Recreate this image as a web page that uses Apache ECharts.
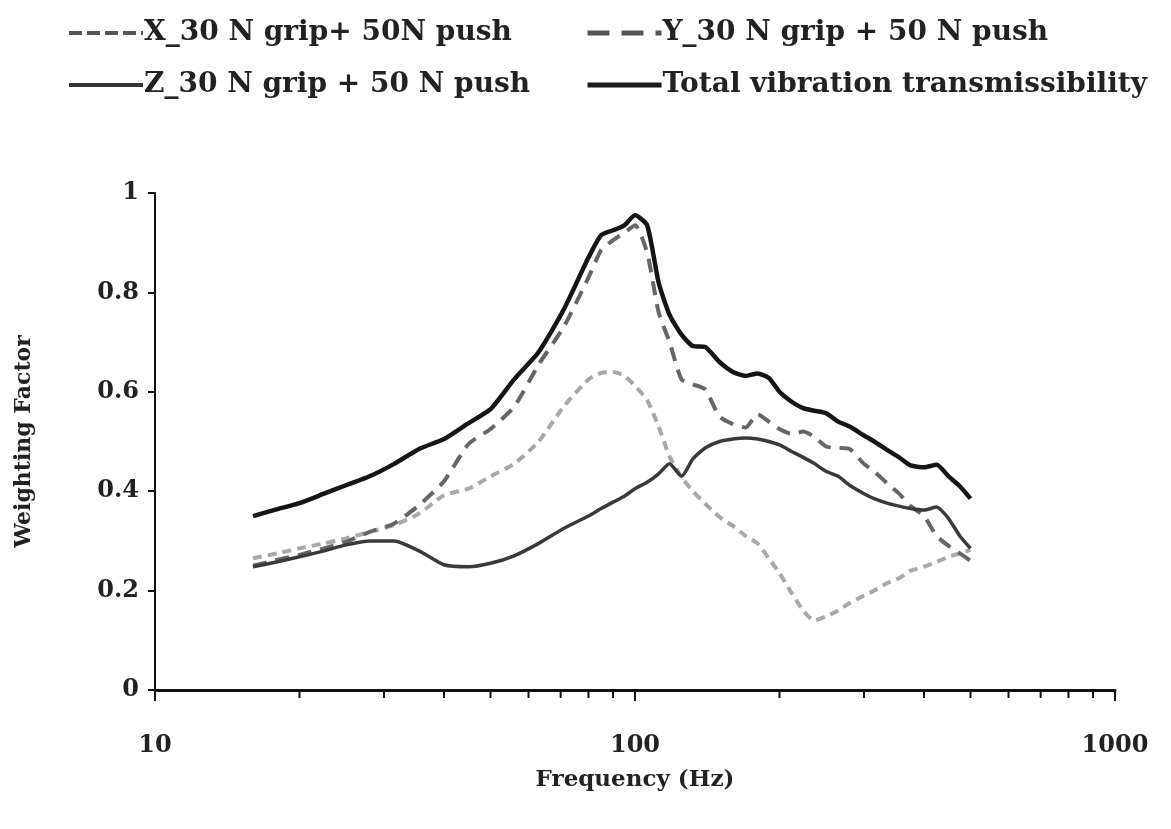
<!DOCTYPE html>
<html>
<head>
<meta charset="utf-8">
<script src="https://cdn.jsdelivr.net/npm/echarts@6/dist/echarts.min.js"></script>
<style>html,body{margin:0;padding:0;background:#fff;}#c{width:1171px;height:829px;}</style>
</head>
<body>
<div id="c"></div>
<script>
const freq = [16,18,20,22.5,25,28,31.5,35.5,40,45,50,56,63,71,80,85,90,95,100,106,112,118,125,132,140,150,160,170,180,190,200,212,224,236,250,265,280,300,315,335,355,375,400,425,450,475,500];
const xVals = [0.265,0.275,0.285,0.295,0.305,0.318,0.332,0.355,0.392,0.405,0.430,0.455,0.500,0.570,0.625,0.638,0.640,0.632,0.612,0.583,0.530,0.470,0.428,0.400,0.375,0.348,0.330,0.310,0.295,0.265,0.235,0.195,0.160,0.140,0.148,0.160,0.175,0.190,0.200,0.215,0.225,0.240,0.248,0.258,0.268,0.275,0.282];
const yVals = [0.250,0.262,0.272,0.285,0.298,0.318,0.335,0.372,0.420,0.495,0.525,0.570,0.655,0.730,0.830,0.885,0.905,0.920,0.935,0.880,0.760,0.700,0.625,0.615,0.605,0.550,0.535,0.528,0.555,0.540,0.525,0.515,0.520,0.510,0.490,0.487,0.485,0.455,0.440,0.416,0.395,0.370,0.350,0.310,0.290,0.275,0.260];
const zVals = [0.248,0.258,0.268,0.280,0.292,0.300,0.300,0.280,0.252,0.248,0.255,0.270,0.295,0.325,0.350,0.365,0.378,0.390,0.405,0.418,0.435,0.455,0.430,0.465,0.487,0.500,0.505,0.507,0.505,0.500,0.493,0.480,0.468,0.456,0.440,0.430,0.412,0.395,0.385,0.376,0.370,0.365,0.362,0.368,0.345,0.310,0.285];
const totalVals = [0.350,0.364,0.376,0.395,0.412,0.430,0.455,0.485,0.505,0.537,0.565,0.625,0.680,0.765,0.870,0.915,0.925,0.935,0.955,0.935,0.820,0.755,0.715,0.692,0.690,0.660,0.640,0.632,0.637,0.628,0.600,0.580,0.567,0.562,0.557,0.540,0.530,0.512,0.500,0.483,0.468,0.452,0.448,0.453,0.430,0.410,0.385];
const minorTickFreqs = [20,30,40,50,60,70,80,90,200,300,400,500,600,700,800,900];
const seriesNames = ['X_30 N grip+ 50N push','Y_30 N grip + 50 N push','Z_30 N grip + 50 N push','Total vibration transmissibility'];

const pair = vals => freq.map((f,i)=>[f, vals[i]]);
const FONT = 'DejaVu Serif';
const legendText = {fontFamily:FONT,fontWeight:'bold',fontSize:28,color:'#222',padding:[0,0,0,-4]};
function mkLegend(name,left,top,lineStyle){
  return {data:[name],left:left,top:top,itemWidth:74,itemHeight:14,
    itemStyle:{opacity:0},lineStyle:lineStyle,textStyle:legendText};
}
const chart = echarts.init(document.getElementById('c'));
chart.setOption({
  animation:false,
  backgroundColor:'#fff',
  grid:{left:155,right:56,top:193,bottom:139,containLabel:false},
  legend:[
    mkLegend(seriesNames[0],62,14,{width:4,type:[13,5],color:'#555'}),
    mkLegend(seriesNames[2],62,66,{width:4,type:'solid',color:'#333'}),
    mkLegend(seriesNames[1],580,14,{width:5,type:[22,12],color:'#555'}),
    mkLegend(seriesNames[3],580,66,{width:5,type:'solid',color:'#1a1a1a'})
  ],
  xAxis:{type:'log',logBase:10,min:10,max:1000,
    name:'Frequency (Hz)',nameLocation:'middle',nameGap:79,
    nameTextStyle:{fontFamily:FONT,fontWeight:'bold',fontSize:23,color:'#222'},
    axisLine:{lineStyle:{color:'#111',width:3}},
    axisTick:{length:11,lineStyle:{color:'#111',width:2}},
    axisLabel:{fontFamily:FONT,fontWeight:'bold',fontSize:24,color:'#222',margin:44,formatter:v=>String(Math.round(v))},
    splitLine:{show:false}},
  yAxis:{type:'value',min:0,max:1,interval:0.2,
    name:'Weighting Factor',nameLocation:'middle',nameGap:120,nameRotate:90,
    nameTextStyle:{fontFamily:FONT,fontWeight:'bold',fontSize:22,color:'#222'},
    axisLine:{show:true,lineStyle:{color:'#111',width:2}},
    axisTick:{show:true,length:7,lineStyle:{color:'#111',width:2}},
    axisLabel:{fontFamily:FONT,fontWeight:'bold',fontSize:24,color:'#222',margin:16},
    splitLine:{show:false}},
  series:[
    {name:seriesNames[0],type:'line',data:pair(xVals),symbol:'none',smooth:0.2,z:2,
     lineStyle:{color:'#a8a8a8',width:4,type:[9,6]},itemStyle:{color:'#a8a8a8'}},
    {name:seriesNames[1],type:'line',data:pair(yVals),symbol:'none',smooth:0.2,z:3,
     lineStyle:{color:'#666',width:4,type:[14,9]},itemStyle:{color:'#666'}},
    {name:seriesNames[2],type:'line',data:pair(zVals),symbol:'none',smooth:0.2,z:4,
     lineStyle:{color:'#3a3a3a',width:3.5},itemStyle:{color:'#3a3a3a'}},
    {name:seriesNames[3],type:'line',data:pair(totalVals),symbol:'none',smooth:0.2,z:5,
     lineStyle:{color:'#151515',width:4.5},itemStyle:{color:'#151515'}},
    {type:'custom',silent:true,clip:false,legendHoverLink:false,
     data:minorTickFreqs.map(f=>[f,0]),
     renderItem:function(params,api){
       const p = api.coord([api.value(0),0]);
       return {type:'line',shape:{x1:p[0],y1:p[1],x2:p[0],y2:p[1]+8},style:{stroke:'#111',lineWidth:2}};
     }}
  ]
});
</script>
</body>
</html>
